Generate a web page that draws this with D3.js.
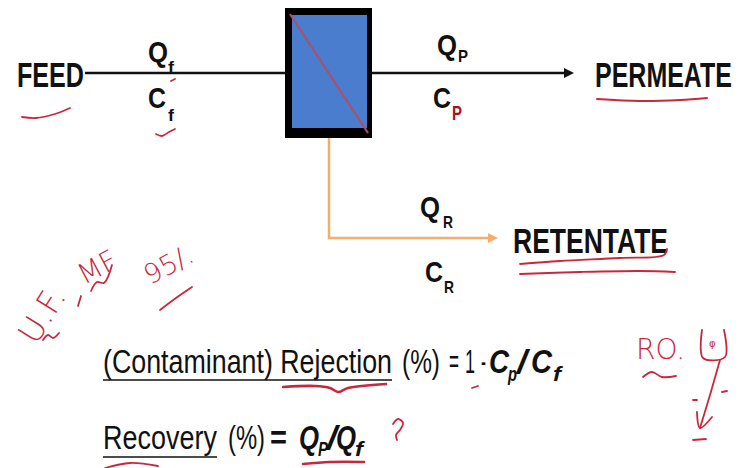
<!DOCTYPE html>
<html><head><meta charset="utf-8">
<script src="https://cdn.jsdelivr.net/npm/d3@7"></script>
<style>html,body{margin:0;padding:0;background:#fff;}svg{display:block}</style>
</head><body>
<svg id="c" width="738" height="468"></svg>
<script>
// ---- content ----
const streamNames = ["FEED", "PERMEATE", "RETENTATE"];
const flowSymbols = ["Q", "C"];
const streamSubs = ["f", "P", "R"];
const rejectionTerm = "(Contaminant) Rejection";
const rejectionRest = ["(%)", "=", "1", "-"];
const rejectionRatio = ["C", "p", "/", "C", "f"];
const recoveryTerm = "Recovery";
const recoveryRest = ["(%)", "="];
const recoveryRatio = ["Q", "P", "/", "Q", "f"];
const noteTexts = ["U.F.", "MF", "95/.", "RO."];

const svg = d3.select("#c");
const NARROW = "'Liberation Sans Narrow','Arial Narrow','Liberation Sans',Arial,sans-serif";
const INK = "#111";
const RED = "#c8283c";
const ORANGE = "#f3ae6b";

const defs = svg.append("defs");
function marker(id, color) {
  defs.append("marker").attr("id", id).attr("viewBox", "0 0 10 10")
    .attr("refX", 2).attr("refY", 5).attr("markerWidth", 4).attr("markerHeight", 4)
    .attr("orient", "auto").attr("markerUnits", "strokeWidth")
    .append("path").attr("d", "M0,0L10,5L0,10z").attr("fill", color);
}
marker("ab", INK); marker("ao", ORANGE);

// ---- flows ----
const line = d3.line();
svg.append("path").attr("d", line([[85, 73], [287, 73]])).attr("stroke", INK).attr("stroke-width", 2.5);
svg.append("path").attr("d", line([[372, 73], [566, 73]])).attr("stroke", INK).attr("stroke-width", 2.5).attr("marker-end", "url(#ab)");
svg.append("path").attr("d", line([[329, 136], [329, 238], [490, 238]])).attr("fill", "none")
  .attr("stroke", ORANGE).attr("stroke-width", 2.5).attr("marker-end", "url(#ao)");

// ---- membrane box ----
svg.append("rect").attr("x", 285).attr("y", 8).attr("width", 87).attr("height", 130).attr("fill", "#000");
svg.append("rect").attr("x", 292).attr("y", 15).attr("width", 75).attr("height", 113).attr("fill", "#4a7dcd");
svg.append("path").attr("d", line([[290, 14], [368, 133]])).attr("stroke", "#a9506e").attr("stroke-width", 2.2);

// ---- text helper ----
function txt(x, y, t, w, opts) {
  const o = Object.assign({size: 33, weight: "normal", style: "normal", fill: INK}, opts || {});
  const e = svg.append("text").attr("x", x).attr("y", y).attr("font-family", NARROW)
    .attr("font-size", o.size).attr("font-weight", o.weight).attr("font-style", o.style)
    .attr("fill", o.fill).text(t);
  if (w) e.attr("textLength", w).attr("lengthAdjust", "spacingAndGlyphs");
  return e;
}

// ---- stream names ----
const nameSpec = [
  {x: 17, y: 87, w: 67},
  {x: 595, y: 87, w: 137},
  {x: 513, y: 253, w: 155}
];
streamNames.forEach((n, i) => txt(nameSpec[i].x, nameSpec[i].y, n, nameSpec[i].w, {size: 35, weight: "bold"}));

// ---- Q / C labels ----
const symSpec = [
  [{x: 148, y: 62, sx: 168, sy: 73}, {x: 148, y: 108, sx: 168, sy: 121}],
  [{x: 437, y: 55, sx: 458, sy: 62}, {x: 433, y: 108, sx: 452, sy: 120}],
  [{x: 420, y: 217, sx: 443, sy: 228}, {x: 425, y: 282, sx: 444, sy: 293}]
];
streamSubs.forEach((s, i) => {
  flowSymbols.forEach((q, j) => {
    const p = symSpec[i][j];
    txt(p.x, p.y, q, q === "Q" ? 20 : 18, {size: 30, weight: "bold"});
    const red = (i === 1 && j === 1);
    txt(p.sx, p.sy, s, s === "f" ? 6 : 10, {size: red ? 20 : 17, weight: "bold", fill: red ? "#a8101c" : INK});
  });
});

// ---- formulas ----
txt(103, 373, rejectionTerm, 289);
svg.append("path").attr("d", line([[103, 380], [392, 380]])).attr("stroke", INK).attr("stroke-width", 1.7);
const rr = [[402, 38], [449, 10], [465, 10], [481, 5]];
rejectionRest.forEach((t, i) => txt(rr[i][0], 373, t, rr[i][1]));
const rq = [[489, 373, 20, 33], [508, 381, 9, 20], [517, 373, 10, 33], [531, 373, 21, 33], [553, 381, 8, 20]];
rejectionRatio.forEach((t, i) => txt(rq[i][0], rq[i][1], t, rq[i][2], {weight: "bold", style: "italic", size: rq[i][3]}));

txt(103, 449, recoveryTerm, 114);
svg.append("path").attr("d", line([[103, 457], [217, 457]])).attr("stroke", INK).attr("stroke-width", 1.7);
const vr = [[228, 37, "normal"], [270, 17, "bold"]];
recoveryRest.forEach((t, i) => txt(vr[i][0], 449, t, vr[i][1], {weight: vr[i][2]}));
const vq = [[299, 449, 20, 33], [318, 456, 10, 20], [327, 449, 10, 33], [336, 449, 20, 33], [355, 456, 8, 20]];
recoveryRatio.forEach((t, i) => txt(vq[i][0], vq[i][1], t, vq[i][2], {weight: "bold", style: "italic", size: vq[i][3]}));

// ---- handwritten annotations (red ink) ----
const ink = d3.line().curve(d3.curveCatmullRom);
const strokes = [
  [[22, 117], [36, 118], [55, 114], [70, 108]],               // FEED
  [[156, 134], [162, 136], [169, 132], [175, 129]],           // Cf tick
  [[171, 81], [175, 79]],
  [[597, 99], [640, 101], [680, 100], [707, 98]],             // PERMEATE
  [[520, 264], [560, 261], [620, 258], [664, 255], [667, 249]],
  [[520, 274], [580, 272], [640, 271], [675, 272]],
  [[283, 387], [315, 386], [330, 388], [338, 392], [348, 388], [386, 384]],
  [[472, 388], [478, 386]],
  [[303, 464], [330, 462], [364, 462]],
  [[105, 468], [130, 463], [158, 466]],
  [[393, 424], [398, 419], [403, 423], [400, 430], [396, 435], [397, 440]],
  [[43, 340], [48, 335], [53, 338], [59, 333]],                // U tilde
  [[81, 296], [78, 306]],
  [[91, 291], [97, 282], [104, 283], [112, 265]],             // MF tilde
  [[160, 310], [176, 298], [192, 287]],                       // 95 underline
  [[643, 377], [652, 372], [662, 377], [676, 376]],            // RO tilde
  [[702, 330], [703, 358], [725, 357], [724, 330]],            // box
  [[720, 360], [710, 395], [700, 428]],
  [[697, 412], [700, 428], [712, 417]],
  [[693, 400], [697, 400]], [[722, 392], [727, 391]],
  [[693, 440], [706, 439]]
];
strokes.forEach((s, i) => {
  svg.append("path").attr("d", ink(s)).attr("fill", "none").attr("stroke", RED)
    .attr("stroke-width", (i === 6 || i === 8) ? 2.6 : 1.8)
    .attr("stroke-linecap", "round").attr("stroke-linejoin", "round");
});
const noteSpec = [
  {x: 36, y: 346, r: -58, s: 33},
  {x: 84, y: 285, r: -28, s: 28},
  {x: 150, y: 285, r: -28, s: 27},
  {x: 636, y: 359, r: 0, s: 28}
];
noteTexts.forEach((t, i) => {
  const p = noteSpec[i];
  svg.append("text").attr("transform", `translate(${p.x},${p.y}) rotate(${p.r})`)
    .attr("font-family", "'DejaVu Sans',sans-serif").attr("font-weight", 200)
    .attr("font-size", p.s).attr("fill", RED).text(t);
});
svg.append("text").attr("x", 709).attr("y", 347).attr("font-family", "'DejaVu Sans'")
  .attr("font-size", 10).attr("fill", RED).text("φ");
</script>
</body></html>
